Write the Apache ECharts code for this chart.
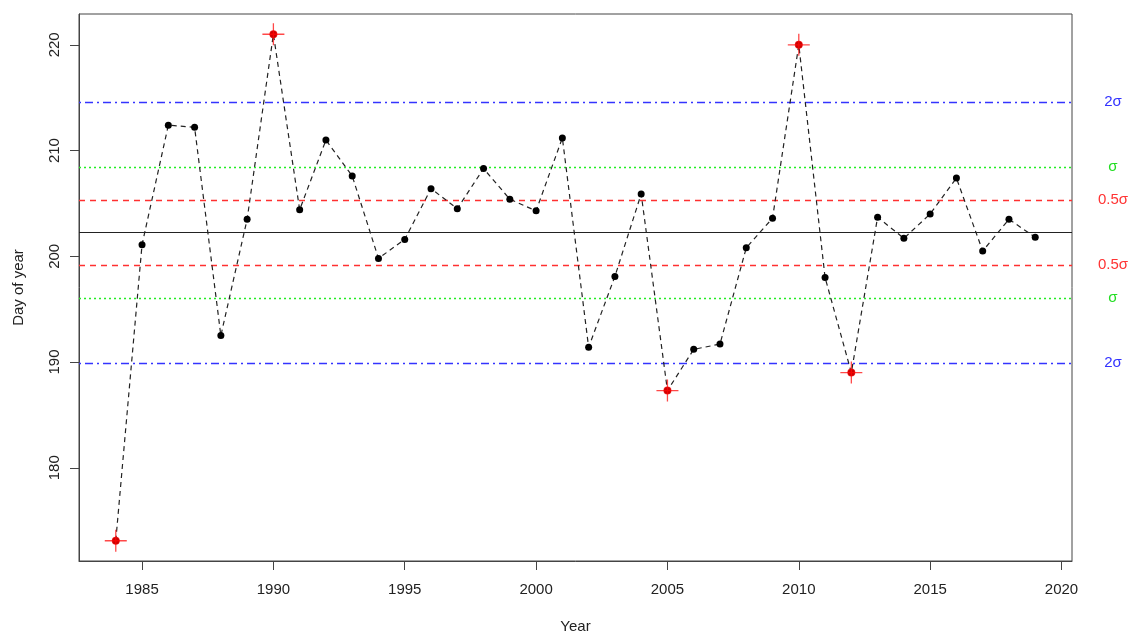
<!DOCTYPE html>
<html>
<head>
<meta charset="utf-8">
<script src="https://cdn.jsdelivr.net/npm/echarts@6/dist/echarts.min.js"></script>
<style>
html,body{margin:0;padding:0;background:#fff;overflow:hidden;}
#chart{width:1132px;height:633px;}
</style>
</head>
<body>
<div id="chart"></div>
<script>
// ---- data ----
var years = [1984,1985,1986,1987,1988,1989,1990,1991,1992,1993,1994,1995,1996,1997,1998,1999,2000,2001,2002,2003,2004,2005,2006,2007,2008,2009,2010,2011,2012,2013,2014,2015,2016,2017,2018,2019];
var dayOfYear = [173.1,201.1,212.4,212.2,192.5,203.5,221.0,204.4,211.0,207.6,199.8,201.6,206.4,204.5,208.3,205.4,204.3,211.2,191.4,198.1,205.9,187.3,191.2,191.7,200.8,203.6,220.0,198.0,189.0,203.7,201.7,204.0,207.4,200.5,203.5,201.8];
var meanDoy = 202.25;
var sigmaDoy = 6.17;
var xTicks = [1985,1990,1995,2000,2005,2010,2015,2020];
var yTicks = [180,190,200,210,220];
var sigmaLabels = ['2σ','σ','0.5σ','0.5σ','σ','2σ'];
var sigmaMult = [2,1,0.5,-0.5,-1,-2];

// ---- build ----
var pts = years.map(function(y,i){return [y,dayOfYear[i]];});
var outliers = pts.filter(function(p){return Math.abs(p[1]-meanDoy) > 2*sigmaDoy;});
var ext = function(a){var mn=Math.min.apply(null,a),mx=Math.max.apply(null,a),r=mx-mn;return [mn-0.04*r,mx+0.04*r];};
var xr = ext(years), yr = ext(dayOfYear);

var styleFor = function(m){
  var a = Math.abs(m);
  if (a===2) return {color:'#3434ff', type:[2,4,8,4], text:'#3333ff'};
  if (a===1) return {color:'#22ee22', type:[2,3], text:'#22dd22'};
  return {color:'#ff3030', type:[6,5], text:'#ff3333'};
};
var mlData = [{yAxis: meanDoy, lineStyle:{color:'#222', type:'solid', width:1.2}, label:{show:false}}];
sigmaMult.forEach(function(m,i){
  var s = styleFor(m);
  mlData.push({
    yAxis: meanDoy + m*sigmaDoy,
    lineStyle:{color:s.color, type:s.type, width:1.3},
    label:{show:true, position:'end', distance:8, formatter:'{a|'+sigmaLabels[i]+'}',
      rich:{a:{width:66, align:'center', color:s.text, fontSize:15, fontFamily:'Liberation Sans'}}}
  });
});

var plusPath = 'path://M-0.7,-12 L0.7,-12 L0.7,-0.7 L12,-0.7 L12,0.7 L0.7,0.7 L0.7,12 L-0.7,12 L-0.7,0.7 L-12,0.7 L-12,-0.7 L-0.7,-0.7 Z';

var chart = echarts.init(document.getElementById('chart'), null, {renderer:'canvas'});
chart.setOption({
  animation:false,
  backgroundColor:'#fff',
  textStyle:{fontFamily:'Liberation Sans'},
  grid:{left:79, top:14, right:60, bottom:72, show:true, borderColor:'#444', borderWidth:1, outerBoundsMode:'none', containLabel:false},
  xAxis:{
    type:'value', min:xr[0], max:xr[1],
    name:'Year', nameLocation:'middle', nameGap:58,
    nameTextStyle:{fontSize:15, color:'#222', fontFamily:'Liberation Sans'},
    axisLine:{show:true, onZero:false, lineStyle:{color:'#444', width:1}},
    axisTick:{show:true, length:9, customValues:xTicks, lineStyle:{color:'#444'}},
    axisLabel:{customValues:xTicks, fontSize:15, color:'#222', margin:21, fontFamily:'Liberation Sans',
      formatter:function(v){return String(v);}},
    splitLine:{show:false}
  },
  yAxis:{
    type:'value', min:yr[0], max:yr[1],
    name:'Day of year', nameLocation:'middle', nameGap:53,
    nameTextStyle:{fontSize:15, color:'#222', fontFamily:'Liberation Sans'},
    axisLine:{show:true, onZero:false, lineStyle:{color:'#444', width:1}},
    axisTick:{show:true, length:9, customValues:yTicks, lineStyle:{color:'#444'}},
    axisLabel:{customValues:yTicks, fontSize:15, color:'#222', margin:17, rotate:90, fontFamily:'Liberation Sans',
      formatter:function(v){return String(v);}},
    splitLine:{show:false}
  },
  series:[
    {
      type:'line', data:pts, symbol:'circle', symbolSize:7, z:3,
      itemStyle:{color:'#000'},
      lineStyle:{color:'#222', width:1.2, type:[5,4]},
      markLine:{silent:true, symbol:['none','none'], data:mlData, z:1, animation:false},
      emphasis:{disabled:true}
    },
    {
      type:'scatter', data:outliers, symbol:plusPath, symbolSize:22, z:4,
      itemStyle:{color:'#ff1a1a'}, emphasis:{disabled:true}
    },
    {
      type:'scatter', data:outliers, symbol:'circle', symbolSize:8, z:5,
      itemStyle:{color:'#ff0000'}, emphasis:{disabled:true}
    }
  ]
});
</script>
</body>
</html>
